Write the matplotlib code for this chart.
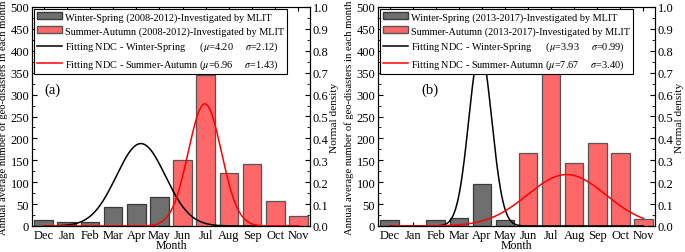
import numpy as np
import matplotlib
matplotlib.use("Agg")
import matplotlib.pyplot as plt
from matplotlib.patches import Patch
from matplotlib.lines import Line2D
from matplotlib.ticker import MultipleLocator

plt.rcParams['font.family'] = 'serif'
plt.rcParams['font.serif'] = ['Liberation Serif', 'DejaVu Serif']
plt.rcParams['mathtext.fontset'] = 'stix'

months = ['Dec', 'Jan', 'Feb', 'Mar', 'Apr', 'May', 'Jun', 'Jul', 'Aug', 'Sep', 'Oct', 'Nov']
n_winter = 6  # Dec..May are winter-spring, Jun..Nov summer-autumn

# annual average number of geo-disasters per month
counts_a = [13, 10, 9, 43, 51, 66, 151, 345, 120, 141, 56, 22]
counts_b = [14, 0, 13, 19, 97, 13, 166, 356, 144, 189, 166, 17]

# fitted normal distribution parameters
fit_a = {'ws': (4.20, 2.12), 'sa': (6.96, 1.43)}
fit_b = {'ws': (3.93, 0.99), 'sa': (7.67, 3.40)}

periods = ['2008-2012', '2013-2017']
panel_tags = ['(a)', '(b)']

GRAY = '#6f6f6f'
GRAY_EDGE = '#3a3a3a'
RED = '#ff6868'
RED_EDGE = '#555555'


def ndc(x, mu, sigma):
    # curve as drawn in the figure (sigma given on a half-month scale)
    s = sigma / 2.0
    return np.exp(-0.5 * ((x - mu) / s) ** 2) / (s * np.sqrt(2 * np.pi))


def draw_panel(fig, rect, counts, fit, period, tag, tag_x):
    ax = fig.add_axes(rect)
    x = np.arange(len(months))
    colors = [GRAY] * n_winter + [RED] * (len(months) - n_winter)
    edges = [GRAY_EDGE] * n_winter + [RED_EDGE] * (len(months) - n_winter)
    ax.bar(x, counts, width=0.8, color=colors, edgecolor=edges, linewidth=0.9, zorder=2)
    ax.set_xlim(-0.5, 11.5)
    ax.set_ylim(0, 500)
    ax.set_xticks(x)
    ax.set_xticklabels(months, fontsize=9)
    ax.yaxis.set_major_locator(MultipleLocator(50))
    ax.yaxis.set_minor_locator(MultipleLocator(25))
    ax.tick_params(axis='y', which='both', direction='in', labelsize=9, pad=2)
    ax.tick_params(axis='y', which='major', length=3.5)
    ax.tick_params(axis='y', which='minor', length=2)
    ax.tick_params(axis='x', direction='in', length=3, top=True, pad=2)
    ax.set_xlabel('Month', fontsize=8.5, labelpad=-1)
    ax.set_ylabel('Annual average number of geo-disasters in each month', fontsize=7.7, labelpad=1.5)
    ax.text(tag_x, 313, tag, fontsize=10.5, ha='left', va='center')

    ax2 = ax.twinx()
    ax2.set_ylim(0, 1.0)
    ax2.yaxis.set_major_locator(MultipleLocator(0.1))
    ax2.yaxis.set_minor_locator(MultipleLocator(0.05))
    ax2.tick_params(axis='y', which='both', direction='in', labelsize=9, pad=2)
    ax2.tick_params(axis='y', which='major', length=3.5)
    ax2.tick_params(axis='y', which='minor', length=2)
    ax2.set_ylabel('Normal density', fontsize=8.2, labelpad=1)

    xs = np.linspace(0, 11, 400)
    ax2.plot(xs, ndc(xs, *fit['ws']), color='black', lw=1.1)
    ax2.plot(xs, ndc(xs, *fit['sa']), color='red', lw=1.1)

    handles = [
        Patch(facecolor=GRAY, edgecolor=GRAY_EDGE),
        Patch(facecolor=RED, edgecolor=RED_EDGE),
        Line2D([], [], color='black', lw=1.1),
        Line2D([], [], color='red', lw=1.1),
    ]
    mu1, s1 = fit['ws']
    mu2, s2 = fit['sa']
    labels = [
        f'Winter-Spring ({period})-Investigated by MLIT',
        f'Summer-Autumn ({period})-Investigated by MLIT',
        f'Fitting NDC - Winter-Spring      ($\\mu$={mu1:.2f}     $\\sigma$={s1:.2f})',
        f'Fitting NDC - Summer-Autumn ($\\mu$={mu2:.2f}     $\\sigma$={s2:.2f})',
    ]
    leg = ax2.legend(handles, labels, loc='upper left', fontsize=7.35, frameon=True,
                     fancybox=False, edgecolor='black', framealpha=1,
                     borderaxespad=0.2, handlelength=2.4, handletextpad=0.35,
                     labelspacing=0.42, borderpad=0.3)
    leg.get_frame().set_linewidth(0.8)
    leg.set_zorder(10)
    return ax, ax2


fig = plt.figure(figsize=(6.85, 2.53), dpi=100)
draw_panel(fig, [32 / 685, 26 / 253, 278 / 685, 219 / 253], counts_a, fit_a,
           periods[0], panel_tags[0], 0.05)
draw_panel(fig, [378 / 685, 26 / 253, 277 / 685, 219 / 253], counts_b, fit_b,
           periods[1], panel_tags[1], 1.4)
fig.savefig('out.png', dpi=100)
plt.close(fig)
